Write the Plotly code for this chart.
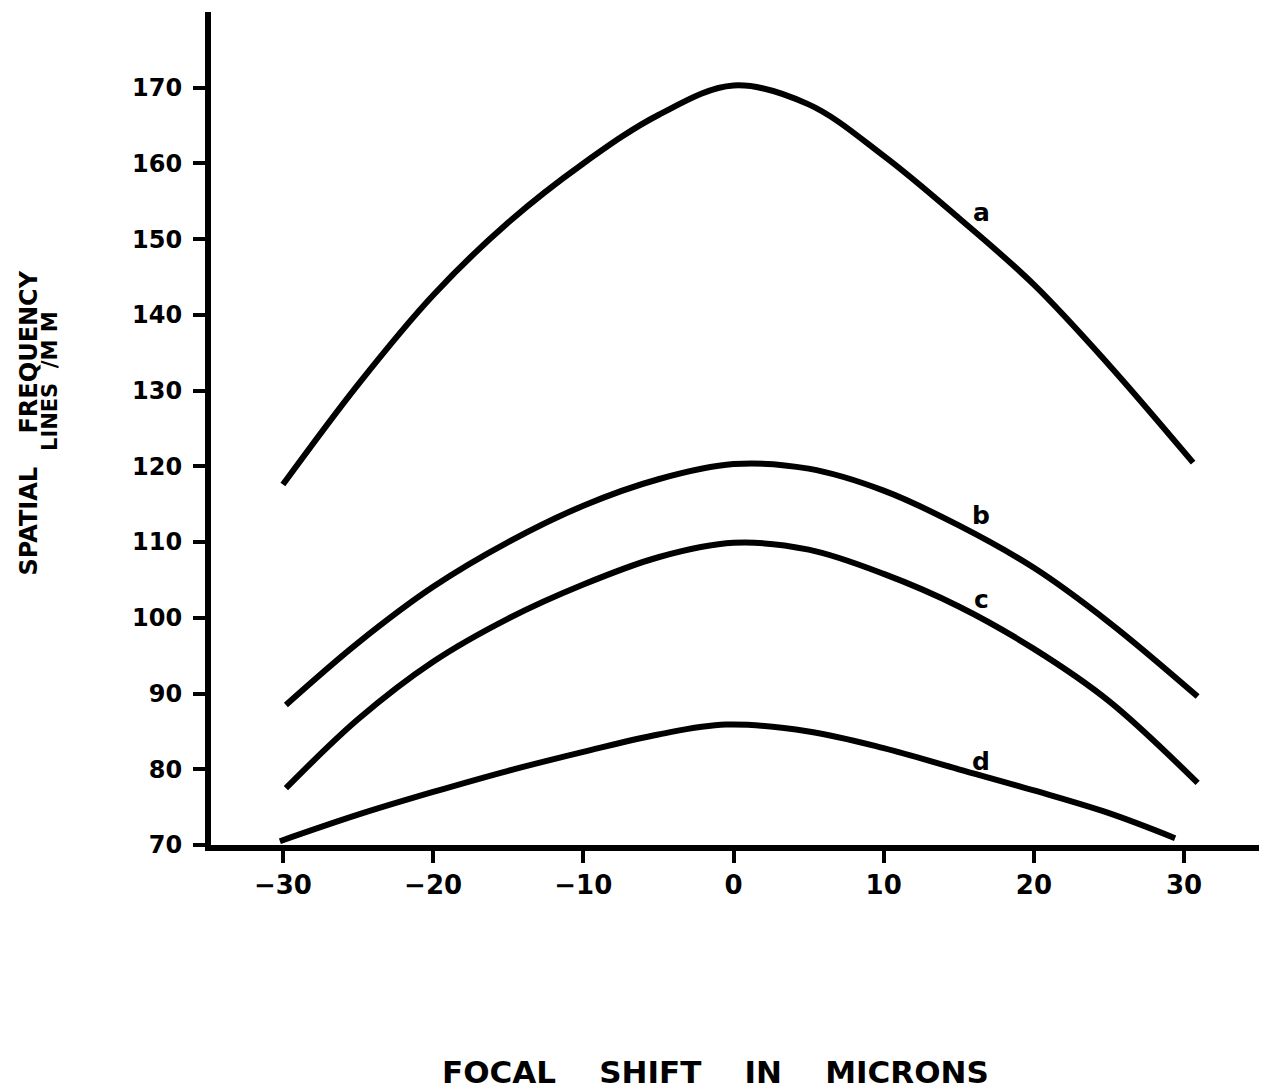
import plotly.graph_objects as go

# Focal shift (microns) and spatial frequency (lines/mm)
a_x = [-30, -25, -20, -15, -10, -5, 0, 5, 10, 15, 20, 25, 30.6]
a_y = [117.6, 130.8, 142.6, 152.2, 160.0, 166.4, 170.3, 167.8, 161.0, 152.8, 144.0, 133.4, 120.5]

b_x = [-29.8, -25, -20, -15, -10, -5, 0, 5, 10, 15, 20, 25, 30.9]
b_y = [88.5, 96.7, 104.1, 110.0, 114.8, 118.3, 120.3, 119.7, 116.8, 112.2, 106.6, 99.4, 89.6]

c_x = [-29.8, -25, -20, -15, -10, -5, 0, 5, 10, 15, 20, 25, 30.9]
c_y = [77.5, 86.6, 94.2, 99.9, 104.4, 108.0, 109.9, 109.0, 105.8, 101.5, 95.9, 89.0, 78.2]

d_x = [-30.2, -25, -20, -15, -10, -5, -0.5, 5, 10, 15, 20, 25, 29.4]
d_y = [70.5, 74.0, 77.0, 79.8, 82.3, 84.6, 85.9, 85.0, 82.8, 80.0, 77.2, 74.2, 70.9]

curve_names = ["a", "b", "c", "d"]
label_x = [16.5, 16.5, 16.5, 16.5]
label_y = [153.5, 113.5, 102.4, 81.0]

x_ticks = [-30, -20, -10, 0, 10, 20, 30]
y_ticks = [70, 80, 90, 100, 110, 120, 130, 140, 150, 160, 170]

FONT = "DejaVu Sans"

# page has an 8px body margin; figure is sized to fit inside it
W, H = 1259, 1084
ML, MR, MT, MB = 203, 5, 4, 247
PW, PH = W - ML - MR, H - MT - MB


def px_to_paper(px, py):
    fx, fy = px - 8, py - 8
    return (fx - ML) / PW, (H - MB - fy) / PH


fig = go.Figure()
for xs, ys, nm in [(a_x, a_y, "a"), (b_x, b_y, "b"), (c_x, c_y, "c"), (d_x, d_y, "d")]:
    fig.add_trace(go.Scatter(x=xs, y=ys, mode="lines", name=nm,
                             line=dict(color="black", width=6, shape="spline", smoothing=1.0),
                             showlegend=False, hoverinfo="skip"))

for nm, lx, ly in zip(curve_names, label_x, label_y):
    fig.add_annotation(x=lx, y=ly, text="<b>%s</b>" % nm, showarrow=False,
                       font=dict(family=FONT, size=25, color="black"),
                       xanchor="center", yanchor="middle")

sp = "\u00a0"
tx, ty = px_to_paper(715, 1072)
fig.add_annotation(xref="paper", yref="paper", x=tx, y=ty,
                   text="<b>FOCAL" + sp * 4 + "SHIFT" + sp * 4 + "IN" + sp * 4 + "MICRONS</b>",
                   showarrow=False, font=dict(family=FONT, size=31, color="black"),
                   xanchor="center", yanchor="middle")
y1x, y1y = px_to_paper(28.5, 423)
fig.add_annotation(xref="paper", yref="paper", x=y1x, y=y1y,
                   text="<b>SPATIAL" + sp * 4 + "FREQUENCY</b>", textangle=-90,
                   showarrow=False, font=dict(family=FONT, size=24, color="black"),
                   xanchor="center", yanchor="middle")
y2x, y2y = px_to_paper(50, 381)
fig.add_annotation(xref="paper", yref="paper", x=y2x, y=y2y,
                   text="<b>LINES" + sp * 2 + "/M" + sp + "M</b>", textangle=-90,
                   showarrow=False, font=dict(family=FONT, size=21, color="black"),
                   xanchor="center", yanchor="middle")

x_lo = (211 - 733.5) / 15.02
x_hi = (1262 - 733.5) / 15.02
fig.update_xaxes(range=[x_lo, x_hi], tickvals=x_ticks,
                 ticktext=["<b>%s</b>" % ("\u2212%d" % -v if v < 0 else "%d" % v) for v in x_ticks],
                 showline=True, linewidth=6, linecolor="black", showgrid=False, zeroline=False,
                 ticks="outside", ticklen=12, tickwidth=4, tickcolor="black",
                 tickfont=dict(family=FONT, size=26, color="black"))
fig.update_yaxes(range=[70, 180], tickvals=y_ticks, ticktext=["<b>%d</b>" % v for v in y_ticks],
                 showline=True, linewidth=6, linecolor="black", showgrid=False, zeroline=False,
                 ticks="outside", ticklen=12, tickwidth=4, tickcolor="black",
                 ticklabelstandoff=6,
                 tickfont=dict(family=FONT, size=24, color="black"))

fig.update_layout(width=W, height=H, plot_bgcolor="white", paper_bgcolor="white",
                  margin=dict(l=ML, r=MR, t=MT, b=MB))

fig.write_html("out.html")
